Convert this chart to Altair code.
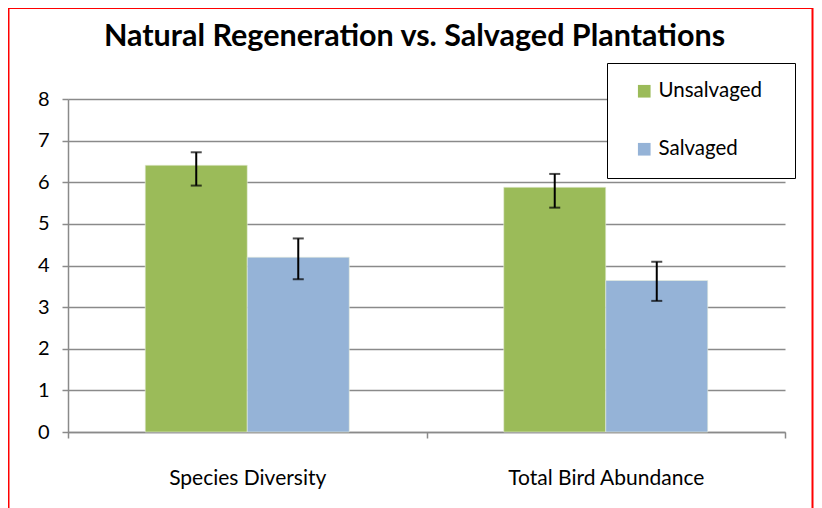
import altair as alt
import pandas as pd

categories = ["Species Diversity", "Total Bird Abundance"]
series = ["Unsalvaged", "Salvaged"]
unsalvaged = [6.41, 5.88]
salvaged = [4.20, 3.64]
unsalvaged_lo = [5.92, 5.39]
unsalvaged_hi = [6.72, 6.20]
salvaged_lo = [3.67, 3.15]
salvaged_hi = [4.65, 4.09]
y_ticks = [0, 1, 2, 3, 4, 5, 6, 7, 8]
colors = ["#9BBB59", "#95B3D7"]

rows = []
for i, c in enumerate(categories):
    rows.append(dict(cat=c, grp="Unsalvaged", val=unsalvaged[i], lo=unsalvaged_lo[i], hi=unsalvaged_hi[i]))
    rows.append(dict(cat=c, grp="Salvaged", val=salvaged[i], lo=salvaged_lo[i], hi=salvaged_hi[i]))
df = pd.DataFrame(rows)

FONT = "Lato"
GRID = "#8a8a8a"

x_enc = alt.X(
    "cat:N", sort=categories, title=None,
    scale=alt.Scale(paddingInner=0, paddingOuter=0),
    axis=alt.Axis(labelAngle=0, labelFontSize=21, labelFont=FONT, labelColor="black",
                  labelPadding=29, labelLimit=400, tickBand="extent", tickSize=6, tickColor=GRID,
                  domainColor=GRID, domainWidth=1.5, tickWidth=1.5, grid=False),
)
xo_enc = alt.XOffset("grp:N", sort=series, scale=alt.Scale(paddingInner=0, paddingOuter=0.757))

y_axis = alt.Axis(values=y_ticks, labelFontSize=20, labelFont=FONT, labelColor="black",
                  labelPadding=13, tickSize=6, tickColor=GRID, tickWidth=1.5,
                  domainColor=GRID, domainWidth=1.5, gridColor=GRID, gridWidth=1.3, title=None)

base = alt.Chart(df)

bars = base.mark_bar(stroke="#e8eedb", strokeWidth=0.6).encode(
    x=x_enc,
    xOffset=xo_enc,
    y=alt.Y("val:Q", scale=alt.Scale(domain=[0, 8]), axis=y_axis),
    color=alt.Color(
        "grp:N", sort=series,
        scale=alt.Scale(domain=series, range=colors),
        legend=alt.Legend(
            title=None, orient="none", legendX=539, legendY=-36,
            symbolType="square", symbolSize=160, symbolStrokeWidth=0,
            labelFontSize=20.5, labelFont=FONT, labelColor="black",
            labelExpr="datum.label + '\u2800'",
            rowPadding=37, padding=18, symbolOffset=9, strokeColor="black", fillColor="white",
            labelOffset=4,
        ),
    ),
)

rules = base.mark_rule(color="black", strokeWidth=2).encode(
    x=x_enc, xOffset=xo_enc, y="lo:Q", y2="hi:Q"
)
cap_lo = base.mark_tick(color="black", thickness=2, size=11).encode(
    x=x_enc, xOffset=xo_enc, y="lo:Q"
)
cap_hi = base.mark_tick(color="black", thickness=2, size=11).encode(
    x=x_enc, xOffset=xo_enc, y="hi:Q"
)

border = alt.Chart(alt.Data(values=[{"b": 1}])).mark_rect(
    fillOpacity=0, stroke="#ff0000", strokeWidth=2
).encode(
    x=alt.value(-59.5), x2=alt.value(744.5), y=alt.value(-91), y2=alt.value(416)
)

chart = alt.layer(bars, rules, cap_lo, cap_hi, border).properties(
    width=717, height=333,
    title=alt.TitleParams("Natural Regeneration vs. Salvaged Plantations",
                          fontSize=30.5, font=FONT, fontWeight="bold", color="black",
                          anchor="middle", offset=-45, dx=-12),
    autosize=alt.AutoSizeParams(type="none"),
    padding={"left": 60, "top": 91, "right": 29, "bottom": 76},
).configure_view(stroke=None)

chart.save("out.html", embed_options={"renderer": "svg", "actions": False})
